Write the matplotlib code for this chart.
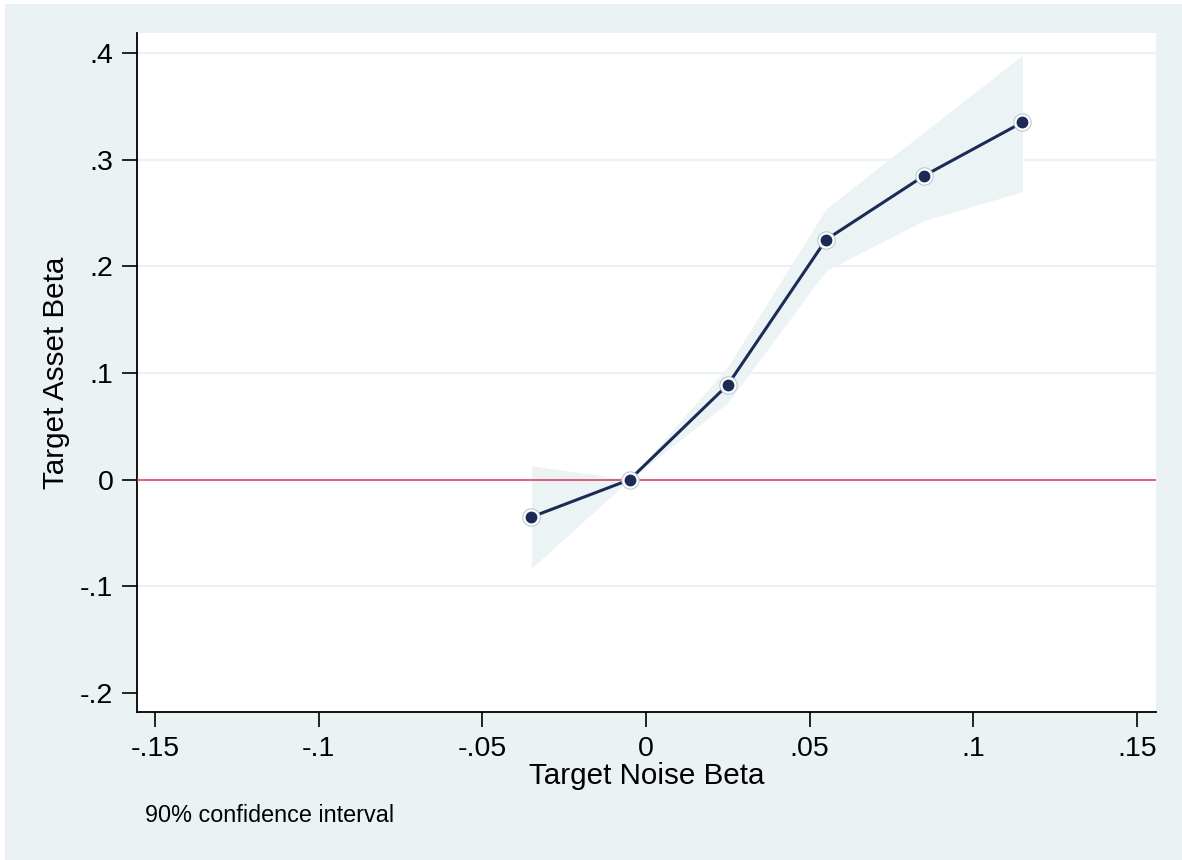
import matplotlib
matplotlib.use("Agg")
import matplotlib.pyplot as plt
from matplotlib.patches import Rectangle

# values
noise_beta = [-0.035, -0.005, 0.025, 0.055, 0.085, 0.115]
asset_beta = [-0.035, 0.0, 0.089, 0.225, 0.285, 0.335]
ci_low = [-0.083, 0.0, 0.072, 0.196, 0.243, 0.270]
ci_high = [0.013, 0.0, 0.106, 0.254, 0.326, 0.398]

x_ticks = [-0.15, -0.1, -0.05, 0, 0.05, 0.1, 0.15]
x_labels = ["-.15", "-.1", "-.05", "0", ".05", ".1", ".15"]
y_ticks = [-0.2, -0.1, 0, 0.1, 0.2, 0.3, 0.4]
y_labels = ["-.2", "-.1", "0", ".1", ".2", ".3", ".4"]
grid_y = [-0.1, 0.1, 0.2, 0.3, 0.4]

bg = "#EAF2F3"
navy = "#1c2b55"

plt.rcParams["font.family"] = ["Liberation Sans", "DejaVu Sans"]

fig = plt.figure(figsize=(11.82, 8.60), dpi=100, facecolor=bg)
# thin white strips on top and left as in the reference
fig.patches.append(Rectangle((0, 0), 5 / 1182, 1, transform=fig.transFigure,
                             facecolor="white", edgecolor="none", zorder=-10))
fig.patches.append(Rectangle((0, 1 - 4 / 860), 1, 4 / 860, transform=fig.transFigure,
                             facecolor="white", edgecolor="none", zorder=-10))

ax = fig.add_axes([137 / 1182, 1 - 712 / 860, (1156 - 137) / 1182, (712 - 33) / 860])
ax.set_facecolor("white")

for gy in grid_y:
    ax.axhline(gy, color=bg, linewidth=1.6, zorder=1)

ax.fill_between(noise_beta, ci_low, ci_high, color="#ECF3F4", linewidth=0, zorder=2)
ax.axhline(0, color="#cc3a55", linewidth=1.1, zorder=3)
ax.plot(noise_beta, asset_beta, color=navy, linewidth=2.2, zorder=4)
ax.plot(noise_beta, asset_beta, linestyle="none", marker="o", markersize=12.5,
        markerfacecolor="white", markeredgecolor="#b8c2cc", markeredgewidth=0.7, zorder=5)
ax.plot(noise_beta, asset_beta, linestyle="none", marker="o", markersize=7.5,
        markerfacecolor=navy, markeredgecolor=navy, zorder=6)

ax.set_xlim(-0.1555, 0.1558)
ax.set_ylim(-0.2178, 0.41875)
ax.set_xticks(x_ticks)
ax.set_xticklabels(x_labels)
ax.set_yticks(y_ticks)
ax.set_yticklabels(y_labels)
ax.tick_params(axis="both", direction="out", length=11, width=1.2, labelsize=20.5, colors="black")
ax.tick_params(axis="x", pad=6)
ax.tick_params(axis="y", pad=6)

for side in ["top", "right"]:
    ax.spines[side].set_visible(False)
for side in ["left", "bottom"]:
    ax.spines[side].set_linewidth(1.3)
    ax.spines[side].set_color("black")

ax.set_xlabel("Target Noise Beta", fontsize=21.3, labelpad=0)
ax.set_ylabel("Target Asset Beta", fontsize=21.3, labelpad=7)

fig.text(145 / 1182, 1 - 815 / 860, "90% confidence interval", fontsize=16.8,
         ha="left", va="center")

fig.savefig("out.png", dpi=100, facecolor=fig.get_facecolor())
